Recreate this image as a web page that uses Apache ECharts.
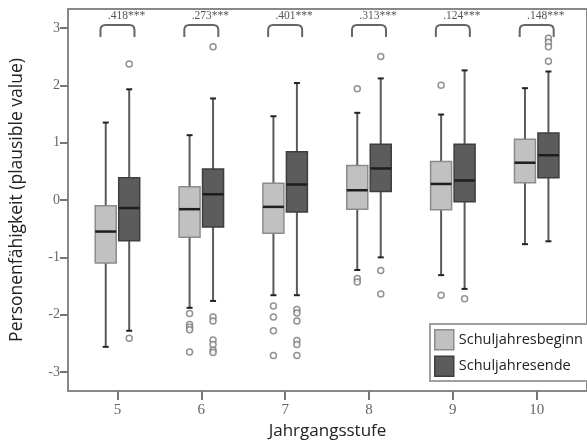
<!DOCTYPE html>
<html>
<head>
<meta charset="utf-8">
<script src="https://cdn.jsdelivr.net/npm/echarts@6/dist/echarts.min.js"></script>
<style>
  html, body { margin: 0; padding: 0; background: #fff; }
  #chart { width: 587px; height: 445px; }
</style>
</head>
<body>
<div id="chart"></div>
<script>
// Jahrgangsstufen (x)
var grades = [5, 6, 7, 8, 9, 10];
var yTicks = [-3, -2, -1, 0, 1, 2, 3];

// Box values: [min, q1, median, q3, max] per grade
var beginBox = [
  [-2.56, -1.10, -0.55, -0.10, 1.35],
  [-1.88, -0.65, -0.16, 0.23, 1.13],
  [-1.66, -0.58, -0.12, 0.29, 1.46],
  [-1.22, -0.16, 0.17, 0.60, 1.52],
  [-1.31, -0.17, 0.28, 0.67, 1.49],
  [-0.77, 0.30, 0.65, 1.06, 1.95]
];
var endBox = [
  [-2.28, -0.71, -0.14, 0.39, 1.93],
  [-1.76, -0.47, 0.10, 0.54, 1.77],
  [-1.66, -0.21, 0.27, 0.84, 2.04],
  [-1.00, 0.15, 0.55, 0.97, 2.12],
  [-1.55, -0.03, 0.34, 0.97, 2.26],
  [-0.72, 0.39, 0.78, 1.17, 2.24]
];

// Ausreisser: [grade, value]
var beginOutliers = [
  [6, -1.98], [6, -2.17], [6, -2.22], [6, -2.26], [6, -2.65],
  [7, -1.85], [7, -2.04], [7, -2.28], [7, -2.71],
  [8, 1.94], [8, -1.37], [8, -1.43],
  [9, 2.00], [9, -1.66]
];
var endOutliers = [
  [5, 2.37], [5, -2.41],
  [6, 2.67], [6, -2.04], [6, -2.11], [6, -2.44], [6, -2.52], [6, -2.62], [6, -2.66],
  [7, -1.91], [7, -1.97], [7, -2.11], [7, -2.45], [7, -2.52], [7, -2.71],
  [8, 2.50], [8, -1.23], [8, -1.64],
  [9, -1.72],
  [10, 2.82], [10, 2.75], [10, 2.67], [10, 2.42]
];

// Effektstaerken ueber den Paaren
var effects = ['.418', '.273', '.401', '.313', '.124', '.148'];

var OFF = 0.14;   // Versatz der beiden Boxen je Jahrgang
var HALF = 10.5;  // halbe Boxbreite in px

function boxRenderer(offset, fill, stroke) {
  return function (params, api) {
    var x = api.value(0) + offset;
    var pMin = api.coord([x, api.value(1)]);
    var pQ1 = api.coord([x, api.value(2)]);
    var pMed = api.coord([x, api.value(3)]);
    var pQ3 = api.coord([x, api.value(4)]);
    var pMax = api.coord([x, api.value(5)]);
    var cx = pMed[0];
    return {
      type: 'group',
      children: [
        { type: 'line', shape: { x1: cx, y1: pMin[1], x2: cx, y2: pMax[1] },
          style: { stroke: '#5a5a5a', lineWidth: 2 } },
        { type: 'line', shape: { x1: cx - 3, y1: pMin[1], x2: cx + 3, y2: pMin[1] },
          style: { stroke: '#222', lineWidth: 2 } },
        { type: 'line', shape: { x1: cx - 3, y1: pMax[1], x2: cx + 3, y2: pMax[1] },
          style: { stroke: '#222', lineWidth: 2 } },
        { type: 'rect', shape: { x: cx - HALF, y: pQ3[1], width: HALF * 2, height: pQ1[1] - pQ3[1] },
          style: { fill: fill, stroke: stroke, lineWidth: 1.5 } },
        { type: 'line', shape: { x1: cx - HALF, y1: pMed[1], x2: cx + HALF, y2: pMed[1] },
          style: { stroke: '#1e1e1e', lineWidth: 2.5 } }
      ]
    };
  };
}

function bracketRenderer(params, api) {
  var g = api.value(0);
  var top = api.coord([g, 3.05]);
  var bot = api.coord([g, 2.84]);
  var l = top[0] - 17, r = top[0] + 17, t = top[1], b = bot[1], rr = 5;
  var path = 'M' + l + ',' + b + ' L' + l + ',' + (t + rr) +
    ' Q' + l + ',' + t + ' ' + (l + rr) + ',' + t +
    ' L' + (r - rr) + ',' + t +
    ' Q' + r + ',' + t + ' ' + r + ',' + (t + rr) +
    ' L' + r + ',' + b;
  var lab = api.coord([g, 3.2]);
  return {
    type: 'group',
    children: [
      { type: 'path', shape: { pathData: path },
        style: { fill: null, stroke: '#666', lineWidth: 2 } },
      { type: 'text', x: lab[0] + 9, y: lab[1],
        style: { text: effects[params.dataIndex] + '***', fill: '#555',
          font: '11.5px "Liberation Serif", serif', align: 'center', verticalAlign: 'middle' } }
    ]
  };
}

function boxData(list) {
  var out = [];
  for (var i = 0; i < grades.length; i++) {
    out.push([grades[i]].concat(list[i]));
  }
  return out;
}
function outlierData(list, offset) {
  return list.map(function (p) { return [p[0] + offset, p[1]]; });
}

var LIGHT = '#c1c1c1', LIGHT_B = '#8c8c8c';
var DARK = '#5c5c5c', DARK_B = '#3e3e3e';

var dom = document.getElementById('chart');
var myChart = echarts.init(dom);
var option = {
  backgroundColor: '#fff',
  animation: false,
  grid: {
    left: 68, top: 9, width: 526, height: 384,
    show: true, borderColor: '#888', borderWidth: 2
  },
  legend: {
    orient: 'vertical',
    left: 430, top: 324,
    padding: [5, 60, 4, 4],
    itemWidth: 19, itemHeight: 20, itemGap: 5,
    backgroundColor: '#fff',
    borderColor: '#a0a0a0', borderWidth: 2,
    textStyle: { fontSize: 14.5, color: '#222', fontFamily: '"Open Sans", sans-serif' },
    data: [
      { name: 'Schuljahresbeginn', icon: 'rect', itemStyle: { color: LIGHT, borderColor: LIGHT_B, borderWidth: 1.5 } },
      { name: 'Schuljahresende', icon: 'rect', itemStyle: { color: DARK, borderColor: DARK_B, borderWidth: 1.5 } }
    ]
  },
  xAxis: {
    type: 'value',
    min: 4.41, max: 10.6,
    name: 'Jahrgangsstufe',
    nameLocation: 'middle',
    nameGap: 32,
    nameTextStyle: { fontSize: 17, color: '#222', fontFamily: '"Open Sans", sans-serif' },
    splitLine: { show: false },
    axisLine: { onZero: false, lineStyle: { color: '#888', width: 2 } },
    axisTick: { customValues: grades, length: 9, lineStyle: { color: '#777', width: 2 } },
    axisLabel: { customValues: grades, fontSize: 15, color: '#666', margin: 12,
      fontFamily: '"Liberation Serif", serif' }
  },
  yAxis: {
    type: 'value',
    min: -3.33, max: 3.33,
    name: 'Personenfähigkeit (plausible value)',
    nameLocation: 'middle',
    nameGap: 42,
    nameTextStyle: { fontSize: 17.5, color: '#222', fontFamily: '"Open Sans", sans-serif' },
    splitLine: { show: false },
    axisLine: { onZero: false, lineStyle: { color: '#888', width: 2 } },
    axisTick: { customValues: yTicks, length: 8, lineStyle: { color: '#777', width: 2 } },
    axisLabel: { customValues: yTicks, fontSize: 14, color: '#666', margin: 8,
      fontFamily: '"Liberation Serif", serif' }
  },
  series: [
    {
      name: 'Schuljahresbeginn', type: 'custom',
      itemStyle: { color: LIGHT },
      encode: { x: 0, y: [1, 2, 3, 4, 5] },
      renderItem: boxRenderer(-OFF, LIGHT, LIGHT_B),
      data: boxData(beginBox)
    },
    {
      name: 'Schuljahresende', type: 'custom',
      itemStyle: { color: DARK },
      encode: { x: 0, y: [1, 2, 3, 4, 5] },
      renderItem: boxRenderer(OFF, DARK, DARK_B),
      data: boxData(endBox)
    },
    {
      type: 'scatter', symbol: 'circle', symbolSize: 6,
      itemStyle: { color: '#fff', borderColor: '#777', borderWidth: 1.5 },
      data: outlierData(beginOutliers, -OFF)
    },
    {
      type: 'scatter', symbol: 'circle', symbolSize: 6,
      itemStyle: { color: '#fff', borderColor: '#777', borderWidth: 1.5 },
      data: outlierData(endOutliers, OFF)
    },
    {
      type: 'custom', silent: true, clip: false,
      encode: { x: 0, y: 1 },
      renderItem: bracketRenderer,
      data: grades.map(function (g) { return [g, 3.05]; })
    }
  ]
};
if (option && typeof option === 'object') {
  myChart.setOption(option, true);
}
</script>
</body>
</html>
